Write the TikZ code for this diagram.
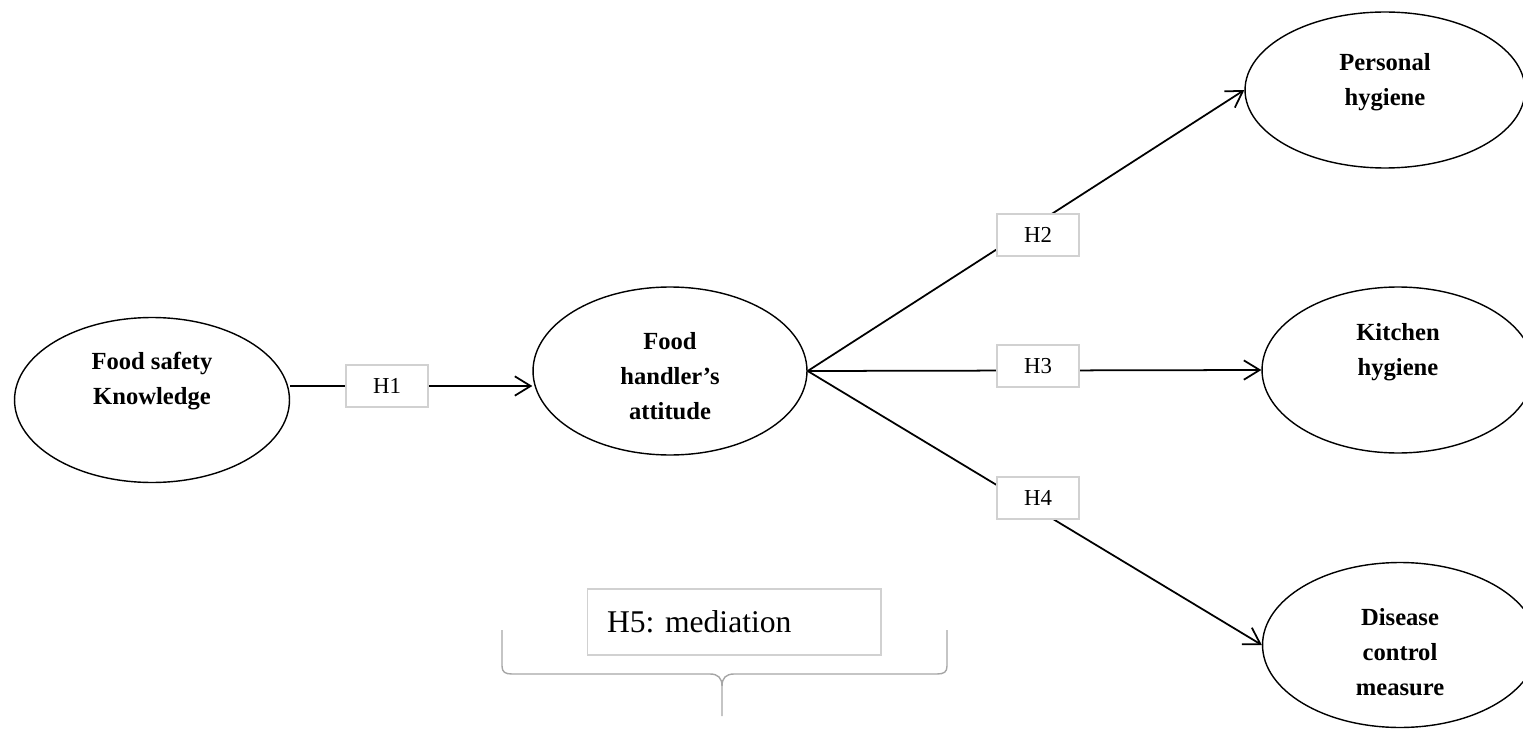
\documentclass[tikz,border=0pt]{standalone}
\usepackage{fontspec}
\setmainfont{Liberation Serif}
\usetikzlibrary{arrows.meta,shapes.geometric}
\frenchspacing

\begin{document}
\begin{tikzpicture}[x=0.02cm,y=-0.02cm,
    factor/.style={ellipse,draw,line width=0.8pt,minimum width=5.5cm,minimum height=3.3cm,inner sep=0pt},
    factortext/.style={align=center,font=\fontsize{14}{20}\selectfont\bfseries},
    hyp/.style={draw=black!18,fill=white,line width=0.6pt,minimum width=1.64cm,minimum height=0.84cm,inner sep=0pt,font=\fontsize{13}{15}\selectfont},
    link/.style={line width=1pt,-{Straight Barb[length=9pt,width=11pt]}},
    bracestroke/.style={draw=black!35,line width=0.8pt}]

      \useasboundingbox (0,0) rectangle (1523,729);
      \clip (0,0) rectangle (1523,729);

      \begin{scope}[every node/.style={factor}]
        \node (fsk) at (152,400)  {};
        \node[minimum width=5.48cm,minimum height=3.36cm] (fha) at (670,371) {};
        \node[minimum width=5.6cm,minimum height=3.12cm]  (ph)  at (1385,90)  {};
        \node[minimum width=5.44cm,minimum height=3.32cm] (kh)  at (1398,370) {};
        \node (dcm) at (1400,645) {};
      \end{scope}

      \begin{scope}[every node/.style={factortext}]
        \node (fsk-t) at (152,381)  {Food safety\\Knowledge};
        \node (fha-t) at (670,376)  {Food\\handler's\\attitude};
        \node (ph-t)  at (1385,82)  {Personal\\hygiene};
        \node (kh-t)  at (1398,352) {Kitchen\\hygiene};
        \node (dcm-t) at (1400,652) {Disease\\control\\measure};
      \end{scope}

      % paths of the model
      \coordinate (h1c) at (387,386);
      \draw[link] (h1c -| fsk.east) -- (h1c -| fha.west);
      \draw[link] (fha.east) -- (ph.west);
      \draw[link] (fha.east) -- (kh.west);
      \draw[link] (fha.east) -- (dcm.west);

      \begin{scope}[every node/.style={hyp}]
        \node (h1) at (h1c)       {H1};
        \node (h2) at (1038,235)  {H2};
        \node (h3) at (1038,366)  {H3};
        \node (h4) at (1038,498)  {H4};
        \node[minimum width=5.88cm,minimum height=1.32cm,text width=5.08cm,align=left,
              inner xsep=0.4cm,font=\fontsize{18}{20}\selectfont] (h5) at (734,622) {H5: mediation};
      \end{scope}

      % brace under the mediation label
      \draw[bracestroke] (502,630) -- (502,666) .. controls (502,672) and (505,674) .. (512,674)
        -- (710,674) .. controls (718,674) and (722,678) .. (722,686) -- (722,716);
      \draw[bracestroke] (947,630) -- (947,666) .. controls (947,672) and (944,674) .. (937,674)
        -- (734,674) .. controls (726,674) and (722,678) .. (722,686);

    \end{tikzpicture}
\end{document}
